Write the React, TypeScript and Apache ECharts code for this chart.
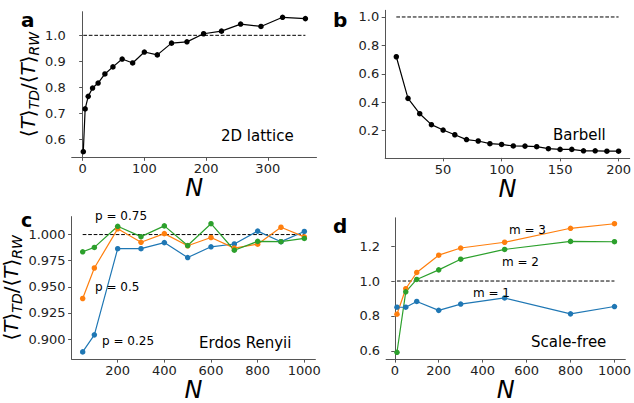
import React, { useEffect, useRef } from "react";
import * as echarts from "echarts";

// Panel a: 2D lattice
const latticeN = [1, 4, 9, 16, 25, 36, 49, 64, 81, 100, 121, 144, 169, 196, 225, 256, 289, 324, 361];
const latticeRatio = [0.554, 0.718, 0.766, 0.798, 0.817, 0.852, 0.879, 0.909, 0.894, 0.936, 0.925, 0.97, 0.975, 1.006, 1.016, 1.043, 1.034, 1.069, 1.064];

// Panel b: Barbell
const barbellN = [10, 20, 30, 40, 50, 60, 70, 80, 90, 100, 110, 120, 130, 140, 150, 160, 170, 180, 190, 200];
const barbellRatio = [0.72, 0.427, 0.319, 0.242, 0.204, 0.171, 0.137, 0.127, 0.108, 0.103, 0.092, 0.091, 0.087, 0.073, 0.068, 0.068, 0.058, 0.058, 0.055, 0.055];

// Panel c: Erdos Renyi
const erN = [50, 100, 200, 300, 400, 500, 600, 700, 800, 900, 1000];
const erP025 = [0.8877, 0.904, 0.9865, 0.9865, 0.9923, 0.978, 0.9883, 0.991, 1.0033, 0.9932, 1.003];
const erP05 = [0.9388, 0.968, 1.0055, 0.9926, 1.0009, 0.9893, 0.9972, 0.987, 0.9908, 1.007, 0.9978];
const erP075 = [0.9835, 0.9877, 1.0079, 0.998, 1.0083, 0.9895, 1.0104, 0.985, 0.9935, 0.9932, 0.9963];

// Panel d: Scale-free
const sfN = [10, 50, 100, 200, 300, 500, 800, 1000];
const sfM1 = [0.85, 0.85, 0.883, 0.832, 0.868, 0.903, 0.812, 0.854];
const sfM2 = [0.592, 0.938, 1.009, 1.064, 1.125, 1.181, 1.227, 1.225];
const sfM3 = [0.81, 0.956, 1.049, 1.148, 1.189, 1.222, 1.302, 1.328];

// Tick values
const aXTicks = [0, 100, 200, 300];
const aYTicks = [0.6, 0.7, 0.8, 0.9, 1.0];
const bXTicks = [50, 100, 150, 200];
const bYTicks = [0.2, 0.4, 0.6, 0.8, 1.0];
const cXTicks = [200, 400, 600, 800, 1000];
const cYTicks = [0.9, 0.925, 0.95, 0.975, 1.0];
const dXTicks = [0, 200, 400, 600, 800, 1000];
const dYTicks = [0.6, 0.8, 1.0, 1.2];

const REF = 1.0;

const FONT = "DejaVu Sans";
const BLUE = "#1f77b4";
const ORANGE = "#ff7f0e";
const GREEN = "#2ca02c";

const zip = (xs: number[], ys: number[]) => xs.map((x, i) => [x, ys[i]]);

const yName = "{r|⟨}{i|T}{r|⟩}{s|TD}{r|/⟨}{i|T}{r|⟩}{s|RW}";
const yNameStyle = {
  fontFamily: FONT,
  color: "#000",
  rich: {
    r: { fontFamily: FONT, fontSize: 20, lineHeight: 26, color: "#000" },
    i: { fontFamily: FONT, fontSize: 20, lineHeight: 26, fontStyle: "italic", color: "#000" },
    s: { fontFamily: FONT, fontSize: 14, lineHeight: 14, fontStyle: "italic", verticalAlign: "bottom", color: "#000" },
  },
};

function xAxis(gridIndex: number, min: number, max: number, ticks: number[]) {
  return {
    type: "value",
    gridIndex,
    min,
    max,
    name: "N",
    nameLocation: "middle",
    nameGap: 16,
    nameTextStyle: { fontFamily: FONT, fontSize: 24, fontStyle: "italic", color: "#000" },
    axisLine: { show: true, lineStyle: { color: "#555", width: 1 } },
    axisTick: { show: true, length: 3.5, customValues: ticks, lineStyle: { color: "#555", width: 1 } },
    axisLabel: {
      show: true,
      customValues: ticks,
      margin: 5,
      fontFamily: FONT,
      fontSize: 13,
      color: "#222",
      formatter: (v: number) => String(v),
    },
    splitLine: { show: false },
  };
}

function yAxis(gridIndex: number, min: number, max: number, ticks: number[], digits: number, withName: boolean, gap: number) {
  return {
    type: "value",
    gridIndex,
    min,
    max,
    name: withName ? yName : "",
    nameLocation: "middle",
    nameRotate: 90,
    nameGap: gap,
    nameTextStyle: yNameStyle,
    axisLine: { show: true, lineStyle: { color: "#555", width: 1 } },
    axisTick: { show: true, length: 3.5, customValues: ticks, lineStyle: { color: "#555", width: 1 } },
    axisLabel: {
      show: true,
      customValues: ticks,
      margin: 6,
      fontFamily: FONT,
      fontSize: 13,
      color: "#222",
      formatter: (v: number) => v.toFixed(digits),
    },
    splitLine: { show: false },
  };
}

function dataSeries(idx: number, xs: number[], ys: number[], color: string) {
  return {
    type: "line",
    xAxisIndex: idx,
    yAxisIndex: idx,
    data: zip(xs, ys),
    symbol: "circle",
    symbolSize: 5.5,
    showSymbol: true,
    lineStyle: { color, width: 1.2 },
    itemStyle: { color },
    z: 3,
  };
}

function refSeries(idx: number, xs: number[]) {
  return {
    type: "line",
    xAxisIndex: idx,
    yAxisIndex: idx,
    data: [
      [xs[0], REF],
      [xs[xs.length - 1], REF],
    ],
    symbol: "none",
    lineStyle: { color: "#000", width: 1, type: [3.7, 1.8] },
    z: 2,
  };
}

function txt(text: string, x: number, y: number, size: number, bold = false) {
  return {
    type: "text",
    x,
    y,
    z: 10,
    style: {
      text,
      fontFamily: FONT,
      fontSize: size,
      fontWeight: bold ? "bold" : "normal",
      fill: "#000",
      textAlign: "left",
      textVerticalAlign: "middle",
    },
  };
}

export default function App() {
  const ref = useRef<HTMLDivElement>(null);
  useEffect(() => {
    if (!ref.current) return;
    const chart = echarts.init(ref.current, undefined, { renderer: "svg" });
    chart.setOption({
      animation: false,
      backgroundColor: "#fff",
      grid: [
        { left: 71.7, top: 11.7, width: 244.8, height: 145.6 },
        { left: 385.2, top: 10.3, width: 245.3, height: 147.6 },
        { left: 71.6, top: 216.6, width: 243.8, height: 148.6 },
        { left: 386.1, top: 217.8, width: 245, height: 147.3 },
      ],
      xAxis: [
        xAxis(0, -17.8, 379, aXTicks),
        xAxis(1, 0.5, 209.5, bXTicks),
        xAxis(2, 2.5, 1047.5, cXTicks),
        xAxis(3, -39.5, 1049.5, dXTicks),
      ],
      yAxis: [
        yAxis(0, 0.5325, 1.0905, aYTicks, 1, true, 30),
        yAxis(1, 0.008, 1.047, bYTicks, 1, false, 0),
        yAxis(2, 0.8808, 1.0172, cYTicks, 3, true, 45),
        yAxis(3, 0.553, 1.362, dYTicks, 1, false, 0),
      ],
      series: [
        refSeries(0, latticeN),
        dataSeries(0, latticeN, latticeRatio, "#000"),
        refSeries(1, barbellN),
        dataSeries(1, barbellN, barbellRatio, "#000"),
        refSeries(2, erN),
        dataSeries(2, erN, erP025, BLUE),
        dataSeries(2, erN, erP05, ORANGE),
        dataSeries(2, erN, erP075, GREEN),
        refSeries(3, sfN),
        dataSeries(3, sfN, sfM1, BLUE),
        dataSeries(3, sfN, sfM3, ORANGE),
        dataSeries(3, sfN, sfM2, GREEN),
      ],
      graphic: [
        txt("a", 21, 20, 20, true),
        txt("b", 333, 20, 20, true),
        txt("c", 21, 220, 19, true),
        txt("d", 333, 226, 20, true),
        txt("2D lattice", 221, 136, 15),
        txt("Barbell", 553, 135, 15),
        txt("Erdos Renyii", 199, 343, 15),
        txt("Scale-free", 531, 342, 15),
        txt("p = 0.75", 95, 216, 12),
        txt("p = 0.5", 95, 287, 12),
        txt("p = 0.25", 102, 341, 12),
        txt("m = 3", 509, 230, 12),
        txt("m = 2", 502, 262, 12),
        txt("m = 1", 473, 293, 12),
      ],
    });
    return () => chart.dispose();
  }, []);
  return (
    <div
      ref={ref}
      style={{ position: "fixed", left: 0, top: 0, width: 634, height: 403, background: "#fff" }}
    />
  );
}
